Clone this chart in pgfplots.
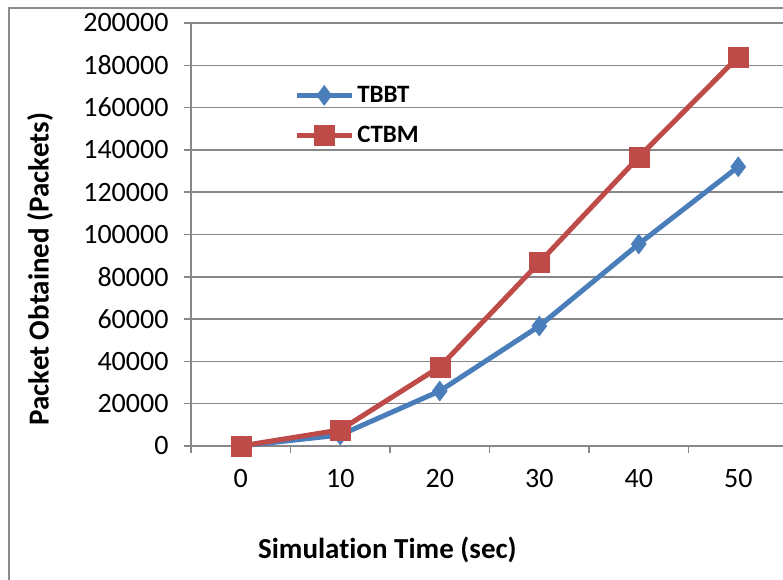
\documentclass[border=0pt]{standalone}
\usepackage{pgfplots}
\pgfplotsset{compat=1.18}
\usepackage{fontspec}
\setmainfont[RawFeature=-liga]{Carlito}
\definecolor{sblue}{HTML}{4A7EBB}
\definecolor{sred}{HTML}{BE4B48}
\definecolor{gridc}{HTML}{878787}
\definecolor{framec}{HTML}{8C8C8C}
\begin{document}
\begin{tikzpicture}[x=1bp,y=1bp]
\useasboundingbox (0,0) rectangle (783,580);
\draw[framec, line width=1.5bp] (9,-5) -- (9,572) -- (800,572);
\begin{axis}[
  at={(191bp,134bp)}, anchor=south west,
  scale only axis, width=597bp, height=423bp,
  xmin=-0.5, xmax=5.5, ymin=0, ymax=200000,
  axis x line*=bottom, axis y line*=left,
  axis line style={gridc, line width=1.5bp, -},
  xtick={-0.5,0.5,1.5,2.5,3.5,4.5},
  xticklabels={},
  extra x ticks={0,1,2,3,4,5},
  extra x tick labels={0,10,20,30,40,50},
  extra x tick style={major tick length=0pt, xticklabel style={yshift=-20bp}},
  ytick={0,20000,...,200000},
  ymajorgrids,
  grid style={gridc, line width=1.5bp},
  major tick style={gridc, line width=1.5bp},
  major tick length=7bp,
  tick align=outside,
  scaled y ticks=false,
  /pgf/number format/.cd, 1000 sep={}, fixed, assume math mode=true, /pgfplots/.cd,
  tick label style={font=\fontsize{28bp}{32bp}\selectfont, text=black},
  yticklabel style={xshift=-12bp},
  xlabel={Simulation Time (sec)},
  ylabel={Packet Obtained (Packets)},
  label style={font=\fontsize{29bp}{34bp}\selectfont\bfseries},
  xlabel style={at={(axis description cs:0.329,-0.246)}, anchor=center},
  ylabel style={at={(axis description cs:-0.253,0.418)}, anchor=center},
  legend style={draw=none, fill=none, at={(axis description cs:0.1726,0.853)}, anchor=north west,
    inner sep=0pt, row sep=20bp, font=\fontsize{25bp}{30bp}\selectfont\bfseries,
    nodes={inner sep=0pt}},
  legend cell align=left,
  /tikz/every odd column/.append style={column sep=3bp},
  legend image code/.code={\draw[mark repeat=2, mark phase=2] plot coordinates {(0bp,0bp) (27.5bp,0bp) (55bp,0bp)};},
  clip=false,
]
\addplot[sblue, line width=5bp, mark=diamond*, mark size=10bp, mark options={solid, fill=sblue, line width=0.5bp}]
  coordinates {(0,0) (1,5200) (2,26000) (3,56700) (4,95500) (5,132000)};
\addlegendentry{TBBT}
\addplot[sred, line width=5bp, mark=square*, mark size=10bp, mark options={solid, fill=sred, line width=0.5bp}]
  coordinates {(0,0) (1,7600) (2,37400) (3,86700) (4,136600) (5,184000)};
\addlegendentry{CTBM}
\end{axis}
\end{tikzpicture}
\end{document}
